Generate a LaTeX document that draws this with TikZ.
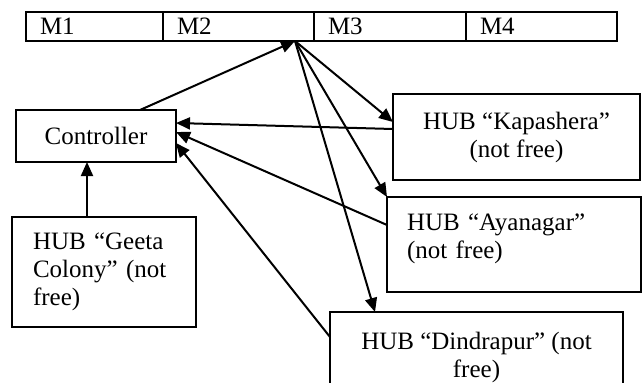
\documentclass[tikz,border=0pt]{standalone}
\usepackage{fontspec}
\setmainfont{Liberation Serif}
\usetikzlibrary{arrows.meta,positioning}

\begin{document}
\begin{tikzpicture}[x=1pt, y=-1pt, node distance=0pt, font=\fontsize{25}{28}\selectfont]
\tikzstyle{cell} = [rectangle, draw, line width=1.8pt, outer sep=0pt, minimum height=29pt, inner xsep=14pt, align=left]
\tikzstyle{hubbox} = [rectangle, draw, line width=1.8pt, outer sep=0pt]
\tikzstyle{link} = [line width=2pt, -{Triangle[length=14pt,width=12pt]}]

\useasboundingbox (0,0) rectangle (643,383);

% Memory cells along the top
\node [cell, text width=109pt, anchor=north west] (m1) at (26,12) {M1};
\node [cell, text width=123pt, right=of m1] (m2) {M2};
\node [cell, text width=124pt, right=of m2] (m3) {M3};
\node [cell, text width=123pt, right=of m3] (m4) {M4};
\coordinate (hub) at ([xshift=-19pt]m2.south east);

% Controller and hubs
\node [hubbox, minimum width=160pt, minimum height=52pt] (ctrl) at (96,136) {Controller};
\node [hubbox, text width=142pt, inner xsep=21pt, minimum height=110pt, align=left] (geeta) at (104,272) {HUB “Geeta\\Colony” (not\\free)};
\node [hubbox, minimum width=247pt, minimum height=86pt, align=center] (kapashera) at (516.5,137) {HUB “Kapashera”\\(not free)};
\node [hubbox, text width=214pt, inner xsep=20pt, minimum height=95pt, align=left] (ayanagar) at (514,244.5) {HUB “Ayanagar”\\(not free)\\[-12pt]\mbox{}};
\node [hubbox, minimum width=293pt, minimum height=90pt, align=center] (dindrapur) at (476.5,357) {HUB “Dindrapur” (not\\free)};

% Connectors
\draw [link] ([xshift=44pt]ctrl.north) -- (hub);
\draw [link] (hub) -- ([yshift=15pt]kapashera.west);
\draw [link] (hub) -- (ayanagar.north west);
\draw [link] (hub) -- ([xshift=45pt]dindrapur.north west);
\draw [link] ([yshift=8pt]kapashera.west) -- ([yshift=13pt]ctrl.east);
\draw [link] ([yshift=19.5pt]ayanagar.west) -- ([yshift=4pt]ctrl.east);
\draw [link] ([yshift=-25pt]dindrapur.north west) -- ([yshift=-7pt]ctrl.east);
\draw [link] ([xshift=-17pt]geeta.north) -- ([xshift=-9pt]ctrl.south);

\end{tikzpicture}
\end{document}
